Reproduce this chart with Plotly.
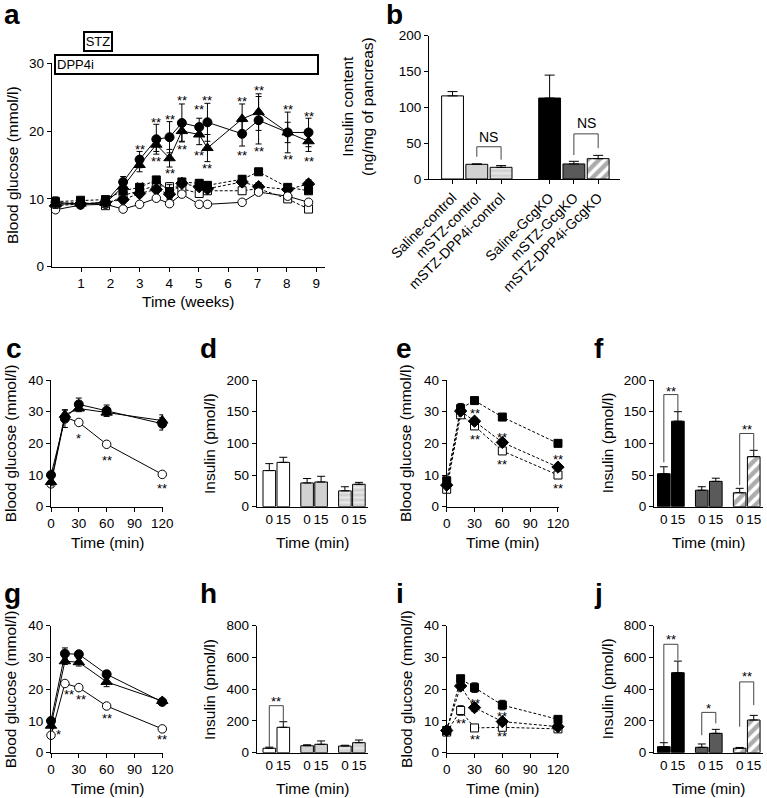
import plotly.graph_objects as go

W, H = 767, 798
FONT = "Liberation Sans, Arial, Helvetica, sans-serif"

# ---------------- data ----------------
# panel a : blood glucose over weeks
weeks = [0.13, 0.98, 1.83, 2.43, 2.99, 3.56, 4.01, 4.43, 5.02, 5.30, 6.48, 7.04, 8.03, 8.74]
a_saline_ctrl = [8.4, 9.1, 9.2, 8.5, 9.2, 10.1, 9.3, 10.7, 9.2, 9.2, 9.5, 11.0, 10.4, 9.5]
a_saline_ctrl_err = [0.3, 0.3, 0.3, 0.3, 0.3, 0.4, 0.3, 0.4, 0.3, 0.3, 0.3, 0.4, 0.4, 0.4]
a_mstz_ctrl = [9.5, 9.2, 9.5, 12.5, 15.8, 18.8, 19.1, 21.2, 20.6, 21.3, 19.6, 21.6, 19.8, 19.8]
a_mstz_ctrl_err = [0.8, 0.6, 0.7, 0.8, 1.2, 2.2, 2.3, 2.8, 1.3, 2.8, 1.8, 3.5, 3.0, 2.1]
a_dpp4i_ctrl = [9.2, 9.3, 9.4, 11.8, 15.0, 18.0, 16.0, 20.0, 19.5, 17.5, 21.8, 22.8, 19.8, 18.5]
a_dpp4i_ctrl_err = [0.6, 0.5, 0.6, 0.8, 1.0, 1.0, 1.3, 1.5, 1.5, 2.0, 2.2, 2.7, 1.5, 1.5]
a_saline_ko = [9.6, 9.8, 9.9, 11.2, 11.7, 12.8, 11.1, 12.5, 12.3, 12.0, 12.9, 14.0, 11.7, 11.2]
a_saline_ko_err = [0.4, 0.4, 0.4, 0.6, 0.5, 0.5, 1.0, 0.5, 0.5, 0.5, 0.5, 0.5, 0.4, 0.4]
a_mstz_ko = [9.0, 9.3, 9.5, 9.9, 10.8, 11.4, 10.7, 12.3, 11.8, 11.5, 12.5, 11.8, 11.4, 12.2]
a_mstz_ko_err = [0.4, 0.4, 0.4, 0.5, 0.5, 0.5, 0.8, 0.5, 0.5, 0.5, 0.5, 0.6, 0.4, 0.6]
a_dpp4i_ko = [9.3, 9.5, 9.0, 10.5, 11.2, 12.0, 11.8, 11.5, 10.8, 11.2, 11.2, 11.5, 10.0, 8.5]
a_dpp4i_ko_err = [0.4, 0.4, 0.4, 0.5, 0.5, 0.5, 0.6, 0.5, 0.5, 0.5, 0.5, 0.5, 0.4, 0.4]
a_star_up_x = [2.99, 3.56, 4.01, 4.43, 5.02, 5.30, 6.48, 7.04, 8.03, 8.74]
a_star_up_y = [17.7, 21.7, 22.1, 24.9, 23.6, 24.9, 24.8, 26.4, 23.7, 22.6]
a_star_dn_x = [2.99, 3.56, 4.01, 4.43, 5.02, 5.30, 6.48, 7.04, 8.03, 8.74]
a_star_dn_y = [12.2, 16.0, 14.2, 17.7, 16.8, 14.9, 16.9, 17.4, 16.3, 16.0]
a_xticks = [1, 2, 3, 4, 5, 6, 7, 8, 9]
a_yticks = [0, 10, 20, 30]

# panel b : insulin content
b_labels = ["Saline-control", "mSTZ-control", "mSTZ-DPP4i-control",
            "Saline-GcgKO", "mSTZ-GcgKO", "mSTZ-DPP4i-GcgKO"]
b_pos = [0, 1, 2, 4, 5, 6]
b_vals = [116, 20.5, 16.3, 113, 21, 28.4]
b_err = [6, 0.6, 2.4, 32, 3.7, 4.6]
b_ns1_x = [1, 1, 2, 2]
b_ns1_y = [31, 45, 45, 27]
b_ns2_x = [5, 5, 6, 6]
b_ns2_y = [33.5, 63, 63, 43]
b_yticks = [0, 50, 100, 150, 200]

# OGTT time points (c, e, g, i)
t_min = [0, 15, 30, 60, 120]
t_ticks = [0, 30, 60, 90, 120]
glu_ticks = [0, 10, 20, 30, 40]

c_mstz_ctrl = [10.0, 27.8, 32.3, 30.3, 26.2]
c_mstz_ctrl_err = [1.5, 2.8, 2.0, 1.8, 2.0]
c_dpp4i_ctrl = [7.8, 29.0, 31.0, 29.7, 27.2]
c_dpp4i_ctrl_err = [1.2, 1.5, 1.0, 1.0, 1.8]
c_saline_ctrl = [7.2, 28.3, 26.6, 19.7, 10.2]
c_saline_ctrl_err = [0.5, 0.8, 0.6, 0.5, 0.4]
c_star_x = [30, 60, 120]
c_star_y = [22.6, 15.6, 6.6]
c_star_t = ["*", "**", "**"]

e_saline_ko = [8.2, 31.0, 33.5, 28.3, 20.0]
e_saline_ko_err = [1.0, 1.6, 1.0, 0.8, 1.0]
e_mstz_ko = [6.8, 30.2, 27.0, 20.3, 12.5]
e_mstz_ko_err = [0.8, 1.0, 1.0, 1.0, 1.0]
e_dpp4i_ko = [5.5, 29.0, 25.5, 17.6, 10.0]
e_dpp4i_ko_err = [0.8, 0.8, 1.0, 1.0, 0.7]
e_star_x = [31, 30, 60, 60, 120, 120]
e_star_y = [30.4, 22.3, 22.8, 14.4, 15.8, 6.8]
e_star_t = ["**"] * 6

g_mstz_ctrl = [10.0, 31.2, 31.0, 24.7, 16.0]
g_mstz_ctrl_err = [1.0, 1.8, 0.8, 1.2, 1.0]
g_dpp4i_ctrl = [8.5, 28.8, 28.5, 22.3, 16.3]
g_dpp4i_ctrl_err = [1.0, 1.0, 1.2, 1.5, 0.8]
g_saline_ctrl = [5.5, 21.8, 20.5, 14.7, 7.5]
g_saline_ctrl_err = [0.5, 0.5, 0.5, 0.5, 0.5]
g_star_x = [8, 19.5, 32, 60.5, 120]
g_star_y = [6.6, 19.2, 17.6, 11.6, 5.1]
g_star_t = ["*", "**", "**", "**", "**"]

i_saline_ko = [7.0, 23.3, 20.5, 15.0, 10.5]
i_saline_ko_err = [1.0, 1.0, 1.5, 1.5, 1.0]
i_mstz_ko = [7.0, 21.0, 14.2, 9.8, 8.2]
i_mstz_ko_err = [0.8, 1.0, 1.2, 1.0, 0.6]
i_dpp4i_ko = [6.5, 13.3, 7.8, 8.0, 7.5]
i_dpp4i_ko_err = [0.6, 1.5, 0.6, 0.6, 0.5]
i_star_x = [30, 15, 30, 60, 60]
i_star_y = [16.4, 10.3, 5.2, 12.4, 6.0]
i_star_t = ["**"] * 5

# insulin bars (d, f, h, j): 0 and 15 min for three groups
ins_pos = [0, 1, 2.7, 3.7, 5.4, 6.4]
ins_labels = ["0", "15", "0", "15", "0", "15"]
d_vals = [57, 70, 37.5, 39, 25, 35.4]
d_err = [11, 8, 7, 9, 6.5, 3]
f_vals = [52, 135, 26, 40, 22, 79]
f_err = [11, 15, 5.5, 5, 7, 10]
h_vals = [28, 160, 44, 53, 42, 63]
h_err = [7, 35, 6, 21, 5, 17]
j_vals = [38, 504, 34, 122, 28, 206]
j_err = [25, 73, 21, 25, 5, 29]
ins200_ticks = [0, 50, 100, 150, 200]
ins800_ticks = [0, 200, 400, 600, 800]

f_br1_x = [0, 0, 1, 1]
f_br1_y = [70, 177, 177, 151]
f_br2_x = [5.4, 5.4, 6.4, 6.4]
f_br2_y = [34, 115.6, 115.6, 89]
h_br1_x = [0, 0, 1, 1]
h_br1_y = [38, 296, 296, 200]
j_br1_x = [0, 0, 1, 1]
j_br1_y = [68, 683, 683, 585]
j_br2_x = [2.7, 2.7, 3.7, 3.7]
j_br2_y = [110, 254, 254, 185]
j_br3_x = [5.4, 5.4, 6.4, 6.4]
j_br3_y = [164, 446, 446, 300]

# ---------------- layout geometry (pixels) ----------------
# panel: (axis index, x-domain px, y-domain px, x range, y range)
P = {
    "a": (1, (51.7, 325.0), (63.3, 266.7), [0, 9.3], [0, 30]),
    "b": (2, (429.0, 620.0), (35.7, 179.0), [-0.97, 6.9], [0, 200]),
    "c": (3, (51.0, 163.2), (380.0, 506.7), [0, 121], [0, 40]),
    "d": (4, (256.7, 368.0), (380.0, 506.7), [-0.9, 7.05], [0, 200]),
    "e": (5, (446.7, 558.9), (380.0, 506.7), [0, 121], [0, 40]),
    "f": (6, (654.0, 763.0), (380.0, 506.7), [-0.7, 7.06], [0, 200]),
    "g": (7, (51.0, 163.2), (625.7, 752.7), [0, 121], [0, 40]),
    "h": (8, (256.7, 368.0), (625.7, 752.7), [-0.9, 7.05], [0, 800]),
    "i": (9, (446.7, 558.9), (625.7, 752.7), [0, 121], [0, 40]),
    "j": (10, (654.0, 763.0), (625.7, 752.7), [-0.7, 7.06], [0, 800]),
}

TICK = 13.5
TITLE = 15.5
STAR = 13


def xp(px):
    return px / W


def yp(py):
    return 1 - py / H


def axid(n, letter):
    return letter if n == 1 else f"{letter}{n}"


fig = go.Figure()
layout = dict(width=W, height=H,
              margin=dict(l=0, r=0, t=0, b=0, pad=0, autoexpand=False),
              paper_bgcolor="white", plot_bgcolor="white", showlegend=False,
              font=dict(family=FONT, size=TICK, color="black"))
annotations = []


def base_axis():
    return dict(showline=True, linecolor="black", linewidth=1, ticks="outside",
                ticklen=4, tickwidth=1, tickcolor="black", showgrid=False,
                zeroline=False, fixedrange=True, automargin=False,
                tickfont=dict(family=FONT, size=TICK, color="black"))


for key, (n, xd, yd, xr, yr) in P.items():
    xa = base_axis()
    ya = base_axis()
    xa.update(domain=[xp(xd[0]), xp(xd[1])], range=xr, anchor=axid(n, "y"))
    ya.update(domain=[yp(yd[1]), yp(yd[0])], range=yr, anchor=axid(n, "x"))
    layout["xaxis" if n == 1 else f"xaxis{n}"] = xa
    layout["yaxis" if n == 1 else f"yaxis{n}"] = ya


def set_axis(key, letter, **kw):
    n = P[key][0]
    name = (letter + "axis") if n == 1 else f"{letter}axis{n}"
    layout[name].update(**kw)


set_axis("a", "x", tickvals=a_xticks)
set_axis("a", "y", tickvals=a_yticks)
set_axis("b", "x", tickvals=b_pos, ticktext=b_labels, tickangle=-45,
         tickfont=dict(family=FONT, size=14, color="black"))
set_axis("b", "y", tickvals=b_yticks)
for k in "cegi":
    set_axis(k, "x", tickvals=t_ticks)
    set_axis(k, "y", tickvals=glu_ticks)
for k in "dfhj":
    set_axis(k, "x", tickvals=ins_pos, ticktext=ins_labels, ticks="", ticklen=0)
for k in "df":
    set_axis(k, "y", tickvals=ins200_ticks)
for k in "hj":
    set_axis(k, "y", tickvals=ins800_ticks)

DASH = "3px,2px"
S_CIRC = dict(symbol="circle", fill="black", dash="solid", size=9)
S_TRI = dict(symbol="triangle-up", fill="black", dash="solid", size=10)
S_OCIRC = dict(symbol="circle", fill="white", dash="solid", size=8.5)
S_SQ = dict(symbol="square", fill="black", dash=DASH, size=8)
S_DIA = dict(symbol="diamond", fill="black", dash=DASH, size=9.5)
S_OSQ = dict(symbol="square", fill="white", dash=DASH, size=8)


def line(key, x, y, err, st):
    n = P[key][0]
    fig.add_trace(go.Scatter(
        x=x, y=y, xaxis=axid(n, "x"), yaxis=axid(n, "y"),
        mode="lines+markers", cliponaxis=False,
        line=dict(color="black", width=1, dash=st["dash"]),
        marker=dict(symbol=st["symbol"], size=st["size"], color=st["fill"],
                    line=dict(color="black", width=1)),
        error_y=dict(type="data", array=err, visible=True, color="black",
                     thickness=1, width=3)))


def stars(key, xs, ys, texts):
    n = P[key][0]
    for x, y, t in zip(xs, ys, texts):
        annotations.append(dict(x=x, y=y, xref=axid(n, "x"), yref=axid(n, "y"),
                                text=t, showarrow=False, yshift=-3,
                                font=dict(family=FONT, size=STAR, color="black")))


def bracket(key, xs, ys):
    n = P[key][0]
    fig.add_trace(go.Scatter(x=xs, y=ys, xaxis=axid(n, "x"), yaxis=axid(n, "y"),
                             mode="lines", cliponaxis=False,
                             line=dict(color="#444444", width=1)))


def label(key, xs, ys, t):
    n = P[key][0]
    annotations.append(dict(x=xs, y=ys, xref=axid(n, "x"), yref=axid(n, "y"),
                            text=t, showarrow=False,
                            font=dict(family=FONT, size=14, color="black")))


ST_WHITE = dict(color="white")
ST_LGRAY = dict(color="#d2d2d2")
ST_LSTRIPE = dict(color="#d2d2d2", pattern=dict(shape="-", fgcolor="white",
                                                 bgcolor="#d2d2d2", size=5,
                                                 solidity=0.4))
ST_BLACK = dict(color="black")
ST_DGRAY = dict(color="#5a5a5a")
ST_HATCH = dict(color="white", pattern=dict(shape="/", fgcolor="#5a5a5a",
                                             bgcolor="white", size=8,
                                             solidity=0.55))


def bars(key, pos, vals, errs, styles, cap):
    n = P[key][0]
    for x, v, e, st in zip(pos, vals, errs, styles):
        mk = dict(st)
        mk["line"] = dict(color="black", width=1)
        fig.add_trace(go.Bar(
            x=[x], y=[v], xaxis=axid(n, "x"), yaxis=axid(n, "y"),
            width=0.9, marker=mk, cliponaxis=False,
            error_y=dict(type="data", array=[e], arrayminus=[0], symmetric=False,
                         visible=True, color="black", thickness=1, width=cap)))


# ---- panel a ----
line("a", weeks, a_dpp4i_ko, a_dpp4i_ko_err, S_OSQ)
line("a", weeks, a_mstz_ko, a_mstz_ko_err, S_DIA)
line("a", weeks, a_saline_ko, a_saline_ko_err, S_SQ)
line("a", weeks, a_saline_ctrl, a_saline_ctrl_err, S_OCIRC)
line("a", weeks, a_dpp4i_ctrl, a_dpp4i_ctrl_err, S_TRI)
line("a", weeks, a_mstz_ctrl, a_mstz_ctrl_err, S_CIRC)
stars("a", a_star_up_x, a_star_up_y, ["**"] * len(a_star_up_x))
stars("a", a_star_dn_x, a_star_dn_y, ["**"] * len(a_star_dn_x))
annotations.append(dict(x=0.07, y=29.8, xref="x", yref="y", xanchor="left",
                        yanchor="middle", text="DPP4i", align="left", width=259,
                        height=15, showarrow=False, borderwidth=2, borderpad=1,
                        bordercolor="black", bgcolor="white",
                        font=dict(family=FONT, size=13, color="black")))
annotations.append(dict(x=1.57, y=yp(41.2), xref="x", yref="paper",
                        xanchor="center", yanchor="middle", text="STZ", width=24,
                        height=15, showarrow=False, borderwidth=2, borderpad=1,
                        bordercolor="black", bgcolor="white",
                        font=dict(family=FONT, size=13, color="black")))

# ---- panel b ----
bars("b", b_pos, b_vals, b_err,
     [ST_WHITE, ST_LGRAY, ST_LSTRIPE, ST_BLACK, ST_DGRAY, ST_HATCH], 5)
bracket("b", b_ns1_x, b_ns1_y)
bracket("b", b_ns2_x, b_ns2_y)
label("b", 1.5, 59, "NS")
label("b", 5.5, 78.6, "NS")

# ---- panels c, e, g, i ----
line("c", t_min, c_saline_ctrl, c_saline_ctrl_err, S_OCIRC)
line("c", t_min, c_dpp4i_ctrl, c_dpp4i_ctrl_err, S_TRI)
line("c", t_min, c_mstz_ctrl, c_mstz_ctrl_err, S_CIRC)
stars("c", c_star_x, c_star_y, c_star_t)

line("e", t_min, e_dpp4i_ko, e_dpp4i_ko_err, S_OSQ)
line("e", t_min, e_mstz_ko, e_mstz_ko_err, S_DIA)
line("e", t_min, e_saline_ko, e_saline_ko_err, S_SQ)
stars("e", e_star_x, e_star_y, e_star_t)

line("g", t_min, g_saline_ctrl, g_saline_ctrl_err, S_OCIRC)
line("g", t_min, g_dpp4i_ctrl, g_dpp4i_ctrl_err, S_TRI)
line("g", t_min, g_mstz_ctrl, g_mstz_ctrl_err, S_CIRC)
stars("g", g_star_x, g_star_y, g_star_t)

line("i", t_min, i_dpp4i_ko, i_dpp4i_ko_err, S_OSQ)
line("i", t_min, i_mstz_ko, i_mstz_ko_err, S_DIA)
line("i", t_min, i_saline_ko, i_saline_ko_err, S_SQ)
stars("i", i_star_x, i_star_y, i_star_t)

# ---- panels d, f, h, j ----
CTRL_STYLES = [ST_WHITE, ST_WHITE, ST_LGRAY, ST_LGRAY, ST_LSTRIPE, ST_LSTRIPE]
KO_STYLES = [ST_BLACK, ST_BLACK, ST_DGRAY, ST_DGRAY, ST_HATCH, ST_HATCH]
bars("d", ins_pos, d_vals, d_err, CTRL_STYLES, 4)
bars("f", ins_pos, f_vals, f_err, KO_STYLES, 4)
bars("h", ins_pos, h_vals, h_err, CTRL_STYLES, 4)
bars("j", ins_pos, j_vals, j_err, KO_STYLES, 4)
bracket("f", f_br1_x, f_br1_y)
bracket("f", f_br2_x, f_br2_y)
stars("f", [0.5], [187], ["**"])
stars("f", [5.9], [126], ["**"])
bracket("h", h_br1_x, h_br1_y)
stars("h", [0.5], [343], ["**"])
bracket("j", j_br1_x, j_br1_y)
bracket("j", j_br2_x, j_br2_y)
bracket("j", j_br3_x, j_br3_y)
stars("j", [0.5], [733], ["**"])
stars("j", [3.2], [296], ["*"])
stars("j", [5.9], [497], ["**"])


# ---- axis titles (paper coords from pixel positions) ----
def ptext(x_px, y_px, t, angle=0, size=TITLE):
    annotations.append(dict(x=xp(x_px), y=yp(y_px), xref="paper", yref="paper",
                            text=t, showarrow=False, textangle=angle,
                            xanchor="center", yanchor="middle",
                            font=dict(family=FONT, size=size, color="black")))


ptext(13, 165, "Blood glucose (mmol/l)", -90)
ptext(188, 301, "Time (weeks)")
ptext(357, 107, "Insulin content<br>(ng/mg of pancreas)", -90)
for k, title in [("c", "Blood glucose (mmol/l)"), ("d", "Insulin (pmol/l)"),
                 ("e", "Blood glucose (mmol/l)"), ("f", "Insulin (pmol/l)"),
                 ("g", "Blood glucose (mmol/l)"), ("h", "Insulin (pmol/l)"),
                 ("i", "Blood glucose (mmol/l)"), ("j", "Insulin (pmol/l)")]:
    n, xd, yd, _, _ = P[k]
    off = 41 if title.startswith("Blood") else 47
    ptext(xd[0] - off, (yd[0] + yd[1]) / 2, title, -90)
    ptext((xd[0] + xd[1]) / 2, yd[1] + 36, "Time (min)")

# ---- panel letters ----
LETTERS = [("a", 2, 23), ("b", 384, 23), ("c", 4, 357), ("d", 198, 357),
           ("e", 394, 357), ("f", 592, 357), ("g", 2, 602), ("h", 198, 602),
           ("i", 394, 602), ("j", 592, 602)]
for t, x_px, base_px in LETTERS:
    annotations.append(dict(x=xp(x_px), y=yp(base_px - 9), xref="paper",
                            yref="paper", text=f"<b>{t}</b>", showarrow=False,
                            xanchor="left", yanchor="middle",
                            font=dict(family=FONT, size=28, color="black")))

layout["annotations"] = annotations
fig.update_layout(**layout)
fig.write_html("out.html", config={"displayModeBar": False},
               post_script="document.body.style.margin='0';"
                           "document.body.style.overflow='hidden';")
